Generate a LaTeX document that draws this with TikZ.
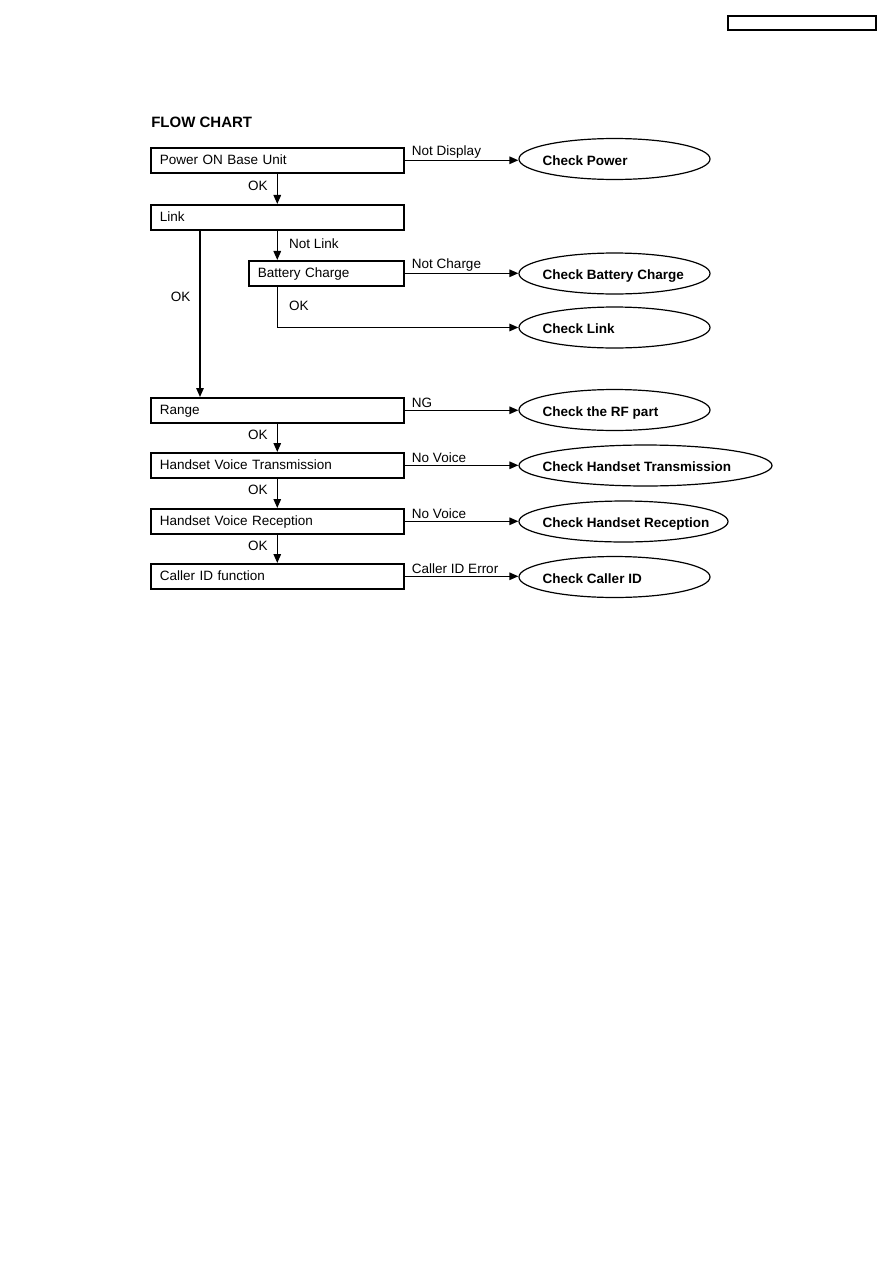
\documentclass[tikz,border=0pt]{standalone}
\usepackage{fontspec}
\setmainfont{Liberation Sans}
\usetikzlibrary{arrows.meta, positioning, shapes.geometric}
\tikzset{
  stepbox/.style={draw, line width=1pt, anchor=north west, minimum height=16.7pt,
    text width=156.6pt, inner xsep=6pt, inner ysep=0pt, align=left,
    text height=8pt, text depth=1.9pt, font=\fontsize{9}{11}\selectfont},
  chk/.style={draw, ellipse, line width=0.8pt, minimum height=27.3pt,
    minimum width=127.3pt, inner sep=0pt},
  chktxt/.style={anchor=base west, inner sep=0pt, yshift=-4pt, font=\fontsize{9}{11}\selectfont\bfseries},
  lbl/.style={inner sep=1pt, font=\fontsize{9}{11}\selectfont},
  flow/.style={-{Triangle[length=6pt,width=5pt]}, line width=0.9pt},
}
\begin{document}
\begin{tikzpicture}[x=0.6663pt, y=-0.6663pt]
  \useasboundingbox (0,0) rectangle (893,1263);
  \draw[line width=1pt] (728,16) rectangle (876,30);
  \node[anchor=base west, inner sep=0pt, font=\fontsize{10}{12}\selectfont\bfseries] (ttl) at (151,127) {FLOW CHART};

  % test steps
  \node[stepbox] (pwr) at (150,147) {Power ON Base Unit};
  \node[stepbox] (link) at (150,204) {Link};
  \node[stepbox, text width=91.3pt] (batt) at (248,260) {Battery Charge};
  \node[stepbox] (range) at (150,397) {Range};
  \node[stepbox] (tx) at (150,452) {Handset Voice Transmission};
  \node[stepbox] (rx) at (150,508) {Handset Voice Reception};
  \node[stepbox] (cid) at (150,563) {Caller ID function};

  % checks
  \node[chk] (cpwr) at (614.5,159) {};
  \node[chk] (cbatt) at (614.5,273.5) {};
  \node[chk] (clink) at (614.5,327.5) {};
  \node[chk] (crf) at (614.5,410) {};
  \node[chk, minimum width=168.6pt] (ctx) at (645.5,465.5) {};
  \node[chk, minimum width=139.3pt] (crx) at (623.5,521.5) {};
  \node[chk] (ccid) at (614.5,577) {};
  \foreach \n/\t in {cpwr/Check Power, cbatt/Check Battery Charge, clink/Check Link,
      crf/Check the RF part, ctx/Check Handset Transmission,
      crx/Check Handset Reception, ccid/Check Caller ID}
    \node[chktxt] (\n-t) at ([xshift=16pt]\n.west) {\t};

  % failure branches
  \foreach \a/\b/\t in {pwr/cpwr/Not Display, batt/cbatt/Not Charge, range/crf/NG,
      tx/ctx/No Voice, rx/crx/No Voice, cid/ccid/Caller ID Error}
    \draw[flow] (\a.east) -- node[lbl, pos=0, anchor=south west, xshift=3.5pt] {\t} (\a.east -| \b.west);

  % main line
  \foreach \a/\b in {pwr/link, range/tx, tx/rx, rx/cid}
    \draw[flow] (\a.south) -- node[lbl, left, pos=0.4, xshift=-5pt] {OK} (\b.north);
  \coordinate (lft) at (200,0);
  \draw[flow] (link.south -| lft) -- node[lbl, left, pos=0.4, xshift=-5pt] {OK} (range.north -| lft);
  \draw[flow] (link.south) -- node[lbl, right, pos=0.45, xshift=6.5pt] {Not Link} (link.south |- batt.north);
  \draw[flow] (link.south |- batt.south) |- node[lbl, right, pos=0.24, xshift=6.5pt] {OK} (clink.west);
\end{tikzpicture}
\end{document}
